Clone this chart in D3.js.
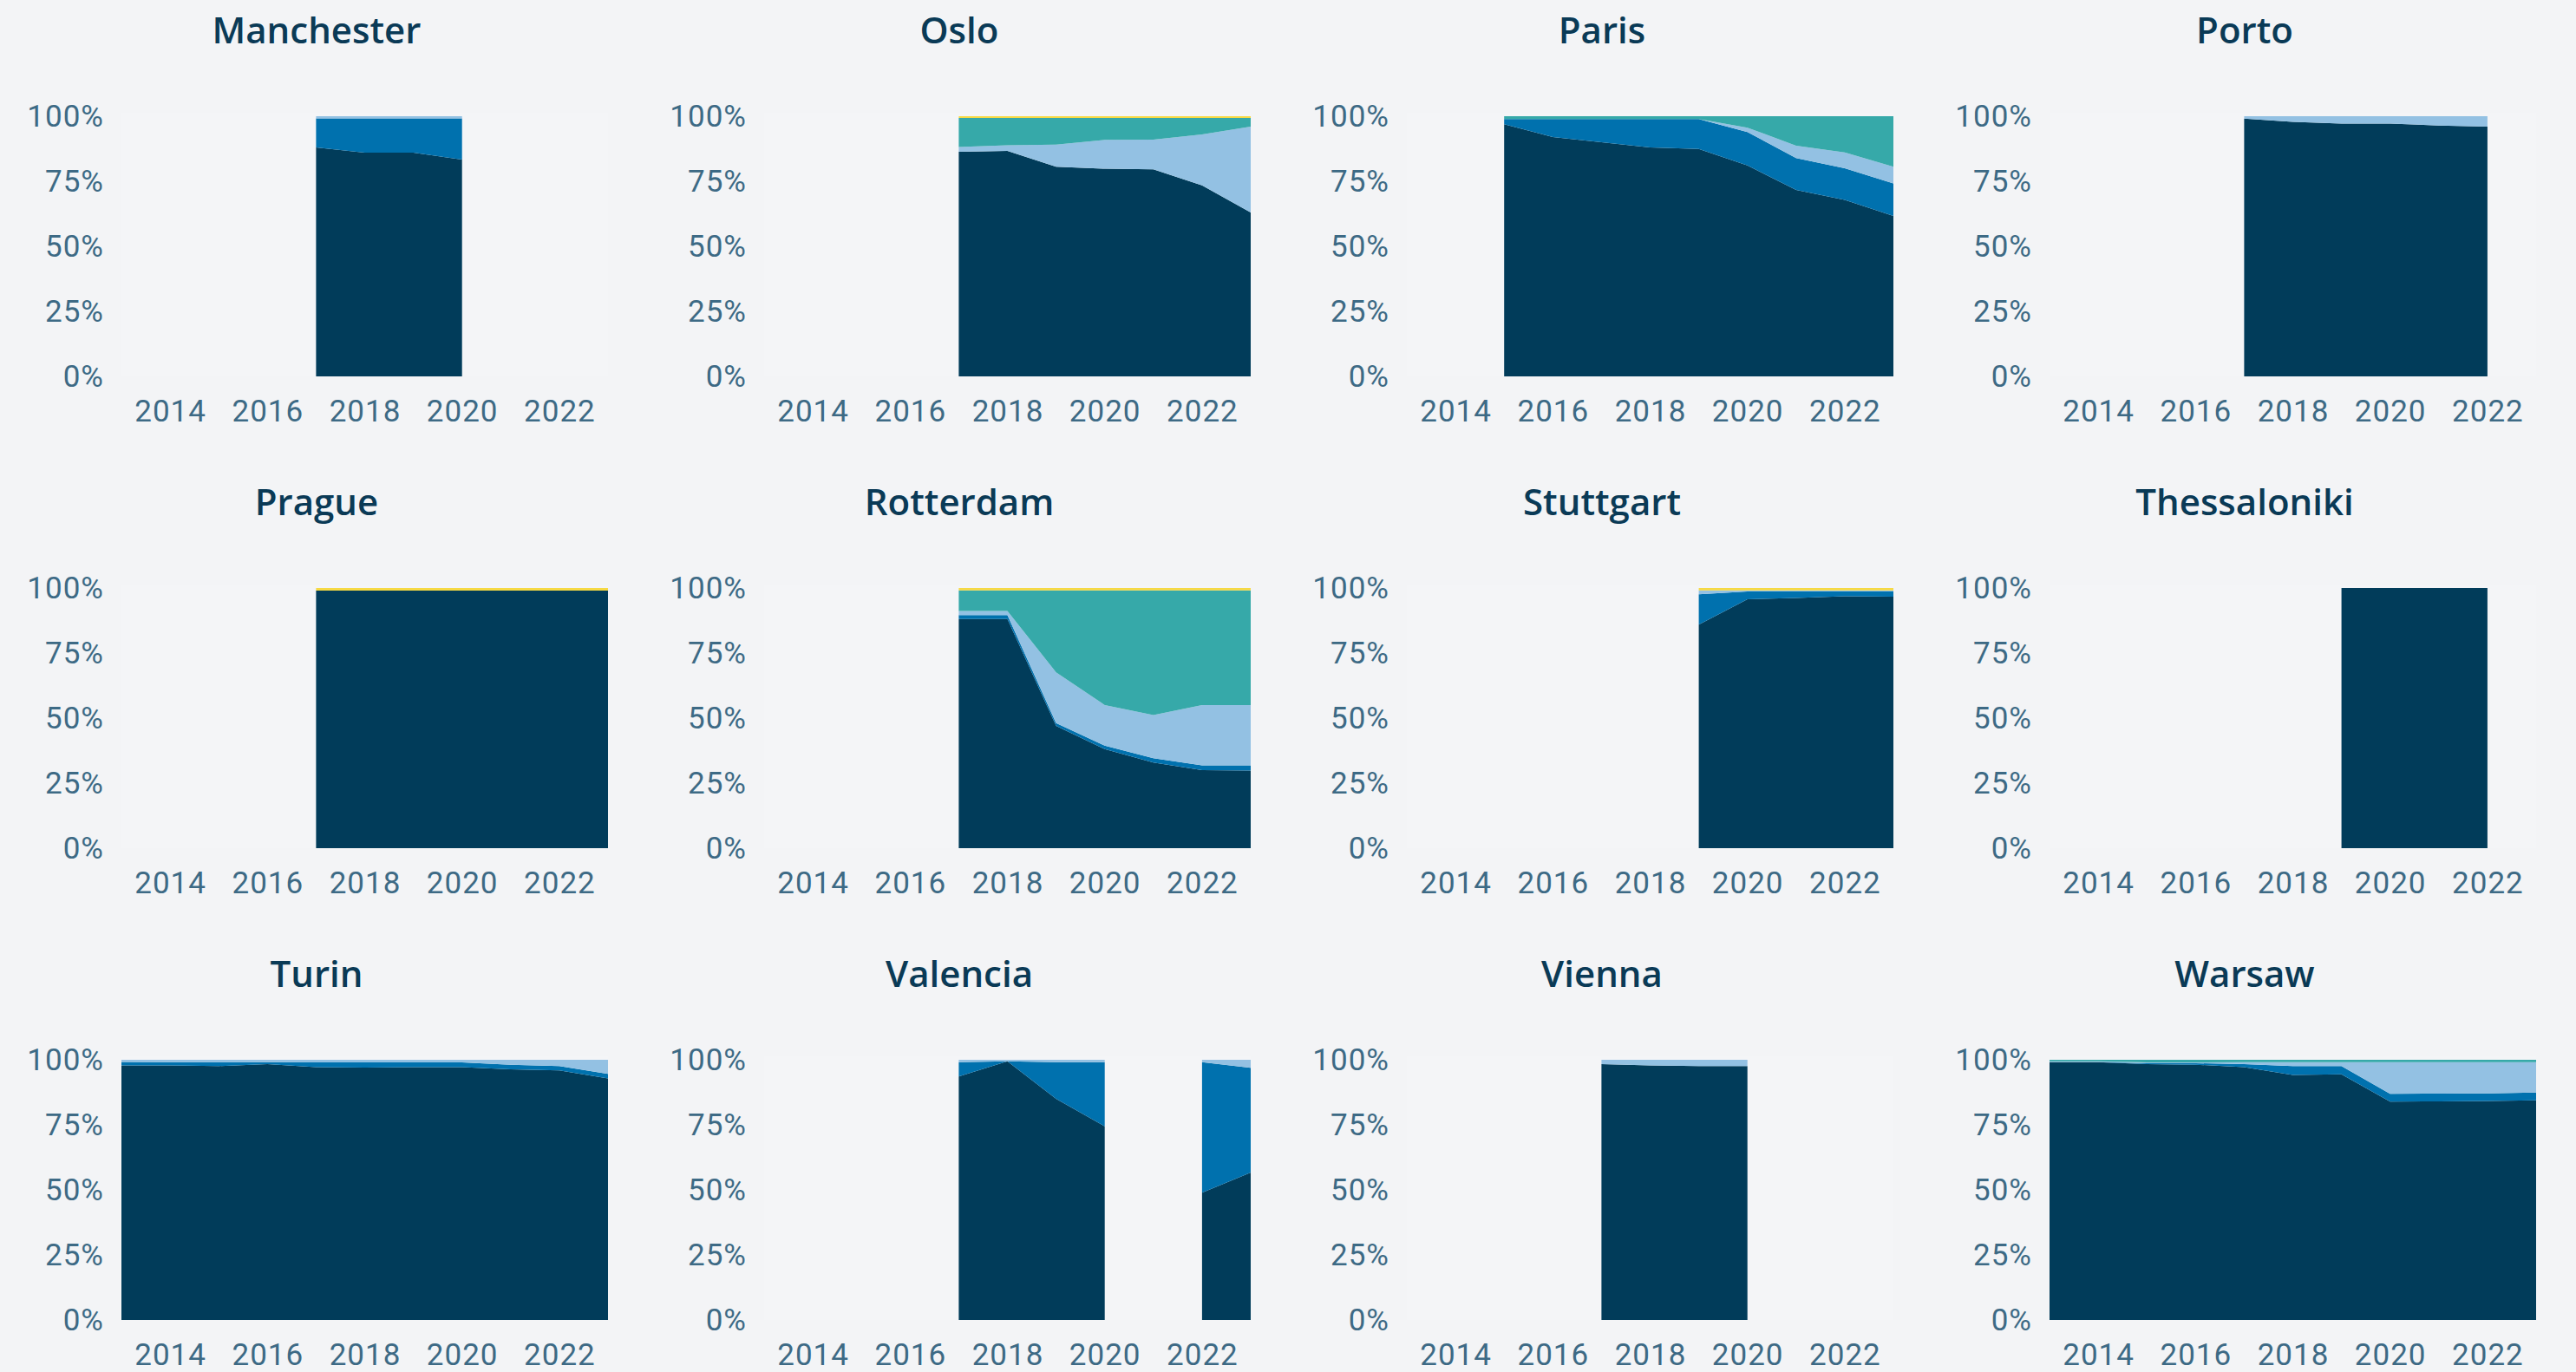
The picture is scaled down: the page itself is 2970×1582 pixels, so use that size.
<!DOCTYPE html>
<html>
<head>
<meta charset="utf-8">
<script src="https://cdn.jsdelivr.net/npm/d3@7"></script>
<style>
  html, body { margin: 0; padding: 0; background: #f3f4f6; }
  svg { display: block; }
</style>
</head>
<body>
<svg id="chart" width="2970" height="1582"></svg>
<script>
// ---------- DATA ----------
const years = [2013, 2014, 2015, 2016, 2017, 2018, 2019, 2020, 2021, 2022, 2023];
const xTicks = [2014, 2016, 2018, 2020, 2022];
const yTicks = [0, 25, 50, 75, 100];
const seriesKeys = ["navy", "blue", "lightBlue", "teal", "yellow"];
const seriesColors = ["#013c5a", "#0071ae", "#93c1e3", "#36a9a9", "#f6d944"];
const cities = ["Manchester", "Oslo", "Paris", "Porto", "Prague", "Rotterdam",
                "Stuttgart", "Thessaloniki", "Turin", "Valencia", "Vienna", "Warsaw"];
const _ = null;

// shares in %, one entry per year 2013..2023 (null = no data)
const manchester = {
  navy:      [_,_,_,_, 88.0, 86.0, 86.0, 83.3, _,_,_],
  blue:      [_,_,_,_, 11.2, 13.2, 13.2, 15.9, _,_,_],
  lightBlue: [_,_,_,_,  0.8,  0.8,  0.8,  0.8, _,_,_]
};
const oslo = {
  navy:      [_,_,_,_, 86.3, 86.7, 80.6, 79.8, 79.6, 73.4, 63.0],
  lightBlue: [_,_,_,_,  1.9,  2.1,  8.5, 11.1, 11.4, 19.6, 33.0],
  teal:      [_,_,_,_, 11.1, 10.5, 10.2,  8.4,  8.3,  6.3,  3.3],
  yellow:    [_,_,_,_,  0.7,  0.7,  0.7,  0.7,  0.7,  0.7,  0.7]
};
const paris = {
  navy:      [_,_, 96.9, 92.0, 90.0, 88.0, 87.4, 81.1, 71.7, 67.8, 61.7],
  blue:      [_,_,  2.0,  6.9,  8.9, 10.9, 11.5, 12.8, 12.2, 12.2, 12.5],
  lightBlue: [_,_,  0.0,  0.0,  0.0,  0.0,  0.0,  1.7,  4.8,  6.1,  6.4],
  teal:      [_,_,  1.1,  1.1,  1.1,  1.1,  1.1,  4.4, 11.3, 13.9, 19.4]
};
const porto = {
  navy:      [_,_,_,_, 99.1, 97.8, 97.2, 97.2, 96.4, 96.0, _],
  lightBlue: [_,_,_,_,  0.9,  2.2,  2.8,  2.8,  3.6,  4.0, _]
};
const prague = {
  navy:      [_,_,_,_, 99.0, 99.0, 99.0, 99.0, 99.0, 99.0, 99.0],
  yellow:    [_,_,_,_,  1.0,  1.0,  1.0,  1.0,  1.0,  1.0,  1.0]
};
const rotterdam = {
  navy:      [_,_,_,_, 88.1, 88.1, 47.0, 38.1, 32.9, 30.0, 29.8],
  blue:      [_,_,_,_,  1.5,  1.5,  1.1,  1.3,  1.7,  1.8,  2.0],
  lightBlue: [_,_,_,_,  1.6,  1.6, 19.5, 15.6, 16.6, 23.2, 23.2],
  teal:      [_,_,_,_,  7.9,  7.9, 31.5, 44.1, 47.9, 44.1, 44.1],
  yellow:    [_,_,_,_,  0.9,  0.9,  0.9,  0.9,  0.9,  0.9,  0.9]
};
const stuttgart = {
  navy:      [_,_,_,_,_,_, 85.9, 95.7, 96.2, 96.8, 96.7],
  blue:      [_,_,_,_,_,_, 11.7,  3.0,  2.5,  1.9,  2.0],
  lightBlue: [_,_,_,_,_,_,  1.5,  0.4,  0.4,  0.4,  0.4],
  yellow:    [_,_,_,_,_,_,  0.9,  0.9,  0.9,  0.9,  0.9]
};
const thessaloniki = {
  navy:      [_,_,_,_,_,_, 100, 100, 100, 100, _]
};
const turin = {
  navy:      [97.8, 97.8, 97.6, 98.3, 97.2, 97.0, 97.2, 97.2, 96.3, 95.9, 92.8],
  blue:      [ 1.4,  1.3,  1.5,  0.8,  1.8,  2.0,  1.8,  1.8,  1.8,  1.7,  1.8],
  lightBlue: [ 0.8,  0.9,  0.9,  0.9,  1.0,  1.0,  1.0,  1.0,  1.9,  2.4,  5.4]
};
const valencia = {
  navy:      [_,_,_,_, 93.6, 99.4, 85.0, 74.4, _, 48.9, 56.7],
  blue:      [_,_,_,_,  5.5,  0.0, 14.1, 24.7, _, 50.2, 40.2],
  lightBlue: [_,_,_,_,  0.9,  0.6,  0.9,  0.9, _,  0.9,  3.1]
};
const vienna = {
  navy:      [_,_,_,_, 98.3, 97.8, 97.6, 97.6, _,_,_],
  lightBlue: [_,_,_,_,  1.7,  2.2,  2.4,  2.4, _,_,_]
};
const warsaw = {
  navy:      [99.1, 99.1, 98.3, 98.1, 97.2, 94.2, 94.4, 83.9, 84.0, 84.2, 84.4],
  blue:      [ 0.1,  0.1,  0.4,  0.6,  1.1,  3.4,  3.2,  3.0,  3.0,  2.9,  3.0],
  lightBlue: [ 0.2,  0.2,  0.3,  0.3,  0.8,  1.5,  1.5, 12.2, 12.1, 12.0, 11.7],
  teal:      [ 0.6,  0.6,  1.0,  1.0,  0.9,  0.9,  0.9,  0.9,  0.9,  0.9,  0.9]
};
const cityData = [manchester, oslo, paris, porto, prague, rotterdam,
                  stuttgart, thessaloniki, turin, valencia, vienna, warsaw];

// ---------- LAYOUT ----------
const colX = [140, 881, 1622, 2363];
const rowY = [134, 678, 1222];
const plotW = 561, plotH = 300;
const titleDX = 225, titleDY = -84;

const svg = d3.select("#chart");
svg.append("rect").attr("width", 2970).attr("height", 1582).attr("fill", "#f3f4f6");

const x = d3.scaleLinear().domain([2013, 2023]).range([0, plotW]);
const y = d3.scaleLinear().domain([0, 100]).range([plotH, 0]);
const color = d3.scaleOrdinal().domain(seriesKeys).range(seriesColors);

const tickFont = "Roboto, 'Open Sans', sans-serif";
const titleFont = "'Open Sans', Lato, sans-serif";

cities.forEach((city, ci) => {
  const col = ci % 4, row = Math.floor(ci / 4);
  const g = svg.append("g").attr("transform", `translate(${colX[col]},${rowY[row]})`);
  const src = cityData[ci];

  g.append("rect").attr("x", 0).attr("y", -4).attr("width", plotW).attr("height", plotH + 4)
    .attr("fill", "#f4f5f7");

  const rows = years.map((yr, i) => {
    const r = { year: yr, present: src.navy[i] != null };
    seriesKeys.forEach(k => { r[k] = (src[k] && src[k][i] != null) ? src[k][i] : 0; });
    return r;
  });
  const stacked = d3.stack().keys(seriesKeys)(rows);
  const area = d3.area()
    .defined(d => d.data.present)
    .x(d => x(d.data.year))
    .y0(d => y(d[0]))
    .y1(d => y(d[1]));

  g.selectAll("path.layer")
    .data(stacked.filter(s => src[s.key]))
    .join("path")
    .attr("class", "layer")
    .attr("fill", s => color(s.key))
    .attr("d", area);

  // axes
  const xa = g.append("g").attr("transform", `translate(0,${plotH})`)
    .call(d3.axisBottom(x).tickValues(xTicks).tickFormat(d3.format("d")).tickSize(0).tickPadding(27));
  const ya = g.append("g")
    .call(d3.axisLeft(y).tickValues(yTicks).tickFormat(d => d + "%").tickSize(0).tickPadding(20));
  [xa, ya].forEach(a => {
    a.select(".domain").remove();
    a.attr("font-family", tickFont).attr("font-size", 35);
    a.selectAll("text").attr("fill", "#3d6a85").attr("letter-spacing", "1px");
  });

  g.append("text")
    .attr("x", titleDX).attr("y", titleDY)
    .attr("text-anchor", "middle")
    .attr("font-family", titleFont)
    .attr("font-size", 42)
    .attr("font-weight", 600)
    .attr("fill", "#0a3a56")
    .text(city);
});
</script>
</body>
</html>
